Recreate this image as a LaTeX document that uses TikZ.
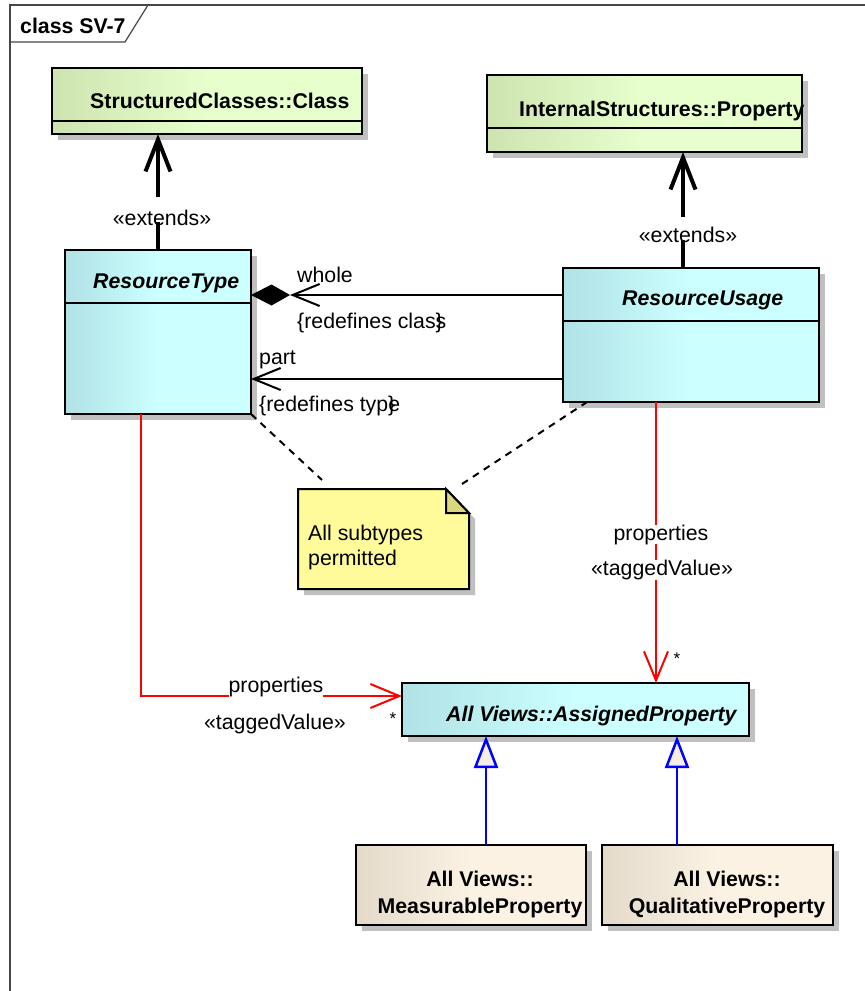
\documentclass[tikz,border=0pt]{standalone}
\usepackage{fontspec}
\setmainfont{Liberation Sans}
\usetikzlibrary{arrows.meta,shadows}
\definecolor{grnL}{RGB}{206,228,176}
\definecolor{grnR}{RGB}{230,255,204}
\definecolor{cyL}{RGB}{176,226,230}
\definecolor{cyR}{RGB}{204,255,255}
\definecolor{bgL}{RGB}{228,218,202}
\definecolor{bgR}{RGB}{252,242,228}
\definecolor{noteY}{RGB}{255,250,154}
\definecolor{noteF}{RGB}{218,216,126}
\definecolor{shd}{RGB}{192,192,192}
\definecolor{umlred}{RGB}{255,0,0}
\definecolor{umlblue}{RGB}{0,0,255}
\definecolor{frm}{RGB}{70,70,70}
\definecolor{triF}{RGB}{244,238,228}
\begin{document}
\begin{tikzpicture}[x=1pt,y=-1pt,
  lbl/.style={font=\fontsize{21.3}{26}\selectfont, inner sep=0pt},
  bt/.style={font=\fontsize{21.3}{26}\selectfont\bfseries, inner sep=0pt},
  bit/.style={font=\fontsize{21.3}{26}\selectfont\bfseries\itshape, inner sep=0pt},
  star/.style={font=\fontsize{17}{18}\selectfont, inner sep=0pt},
  shadowed/.style={drop shadow={shadow xshift=6pt, shadow yshift=-6pt, fill=shd, opacity=1}},
  umlbox/.style={draw=black, line width=2pt, anchor=north west, inner sep=0pt, outer sep=0pt, shadowed},
  greenbox/.style={umlbox, left color=grnL, right color=grnR, middle color=grnR},
  cyanbox/.style={umlbox, left color=cyL, right color=cyR, middle color=cyR},
  beigebox/.style={umlbox, left color=bgL, right color=bgR, middle color=bgR},
  divider/.style={line width=2pt},
  ext/.style={line width=4pt, draw=black},
  assoc/.style={line width=2pt, draw=black},
  redline/.style={line width=2pt, draw=umlred},
  gen/.style={line width=2.5pt, draw=umlblue},
  noteline/.style={line width=2pt, dash pattern=on 7pt off 6pt},
]
\useasboundingbox[fill=white] (0,0) rectangle (865,991);
% frame
\draw[frm, line width=1.2pt] (10,995) -- (10,5) -- (870,5);
\draw[frm, line width=1.2pt] (10,42) -- (125,42) -- (148,5);
\node[bt, anchor=base west] (ttl) at (20,33.5) {class SV-7};

% class boxes
\node[greenbox, minimum width=310pt, minimum height=66pt] (sc) at (52,68) {};
\draw[divider] (sc.west |- 0,121) -- (sc.east |- 0,121);
\node[bt, anchor=base west] (sct) at (90,108) {StructuredClasses::Class};

\node[greenbox, minimum width=315pt, minimum height=77pt] (ip) at (487,75) {};
\draw[divider] (ip.west |- 0,128) -- (ip.east |- 0,128);
\node[bt, anchor=base west] (ipt) at (519,116) {InternalStructures::Property};

\node[cyanbox, minimum width=186pt, minimum height=164pt] (rt) at (65,250) {};
\draw[divider] (rt.west |- 0,303) -- (rt.east |- 0,303);
\node[bit, anchor=base west] (rtt) at (93,288.5) {ResourceType};

\node[cyanbox, minimum width=256pt, minimum height=134pt] (ru) at (563,268) {};
\draw[divider] (ru.west |- 0,321) -- (ru.east |- 0,321);
\node[bit, anchor=base west] (rut) at (622,305.5) {ResourceUsage};

\node[cyanbox, minimum width=347pt, minimum height=53pt] (ap) at (402,683) {};
\node[bit, anchor=base west] (apt) at (446,721.5) {All Views::AssignedProperty};

\node[beigebox, minimum width=230pt, minimum height=80pt] (mp) at (356,845) {};
\node[bt, align=center] (mpt) at (480,894.5) {All Views::\\[0.5pt]MeasurableProperty};

\node[beigebox, minimum width=231pt, minimum height=80pt] (qp) at (602,845) {};
\node[bt, align=center] (qpt) at (727,894.5) {All Views::\\[0.5pt]QualitativeProperty};

% note
\filldraw[fill=noteY, line width=2pt, shadowed] (298,489) -- (446,489) -- (469,513) -- (469,589) -- (298,589) -- cycle;
\filldraw[fill=noteF, line width=2pt, line join=miter] (446,489) -- (446,513) -- (469,513) -- cycle;
\node[lbl, align=left, anchor=west] (nt) at (308,547) {All subtypes\\[-1pt]permitted};
\coordinate (n1) at (322,480);
\coordinate (n2) at (462,484);
\draw[noteline] (rt.south east) -- (n1);
\draw[noteline] (n2) -- ([xshift=24pt]ru.south west);

% extends
\node[lbl, anchor=base] (ext1) at (162,225) {«extends»};
\draw[ext] (158,0 |- rt.north) -- (158,222);
\draw[ext, -{Straight Barb[length=32pt,width=25pt]}] (158,197) -- (158,0 |- sc.south);
\node[lbl, anchor=base] (ext2) at (688,242) {«extends»};
\draw[ext] (683,0 |- ru.north) -- (683,240);
\draw[ext, -{Straight Barb[length=32pt,width=25pt]}] (683,217) -- (683,0 |- ip.south);

% composition whole / part
\fill (rt.east |- 0,295) -- (271.5,284.5) -- (290,295) -- (271.5,305.5) -- cycle;
\coordinate (dtip) at (290,295);
\draw[assoc, {Straight Barb[length=27pt,width=22pt]}-] (dtip) -- (ru.west |- dtip);
\node[lbl, anchor=base west] (whl) at (297,282.5) {whole};
\node[lbl, anchor=base west] (rdc) at (297,328) {\{redefines clas\rlap{\}}s};
\draw[assoc, {Straight Barb[length=27pt,width=22pt]}-] (rt.east |- 0,379) -- (ru.west |- 0,379);
\node[lbl, anchor=base west] (prt) at (259,364.5) {part};
\node[lbl, anchor=base west] (rdt) at (259,411.5) {\{redefines typ\rlap{\}}e};

% tagged value associations
\draw[redline, -{Straight Barb[length=29pt,width=24pt]}] (141,0 |- rt.south) -- (141,696) -- (ap.west |- 0,696);
\draw[redline, -{Straight Barb[length=29pt,width=24pt]}] (656,0 |- ru.south) -- (656,0 |- ap.north);
\node[lbl, anchor=base, fill=white] (pl) at (276,692.7) {properties};
\node[lbl, anchor=base] (tvl) at (275,729) {«taggedValue»};
\node[star] (s1) at (393,719) {*};
\node[lbl, anchor=base, fill=white] (pr) at (661,540) {properties};
\node[lbl, anchor=base, fill=white] (tvr) at (662,575.5) {«taggedValue»};
\node[star] (s2) at (677,659) {*};

% generalizations
\draw[gen, -{Triangle[length=32pt,width=24pt,fill=triF]}] (486,0 |- mp.north) -- (486,0 |- ap.south);
\draw[gen, -{Triangle[length=32pt,width=24pt,fill=triF]}] (677,0 |- qp.north) -- (677,0 |- ap.south);
\end{tikzpicture}
\end{document}
